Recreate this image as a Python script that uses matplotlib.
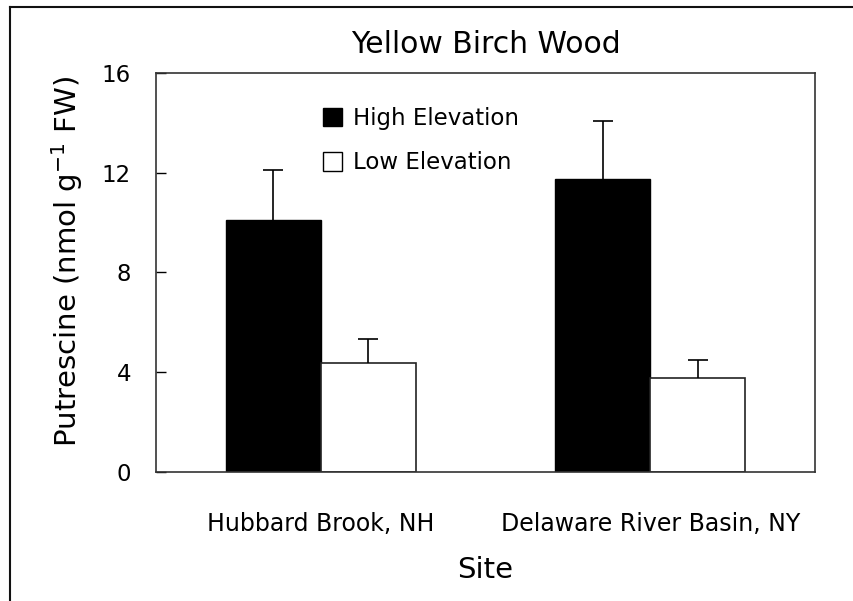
import matplotlib.pyplot as plt
from matplotlib.lines import Line2D
from matplotlib.patches import Patch
import numpy as np

sites = ['Hubbard Brook, NH', 'Delaware River Basin, NY']
high = [10.1, 11.75]
high_err = [2.0, 2.3]
low = [4.35, 3.75]
low_err = [1.0, 0.75]

plt.rcParams['font.family'] = 'DejaVu Sans'

fig = plt.figure(figsize=(8.54, 6.01), dpi=100)
ax = fig.add_axes([0.1827, 0.2146, 0.7716, 0.6644])

x = np.arange(len(sites))
w = 0.288
ax.bar(x - w / 2, high, w, color='black', edgecolor='black', linewidth=1)
ax.bar(x + w / 2, low, w, color='white', edgecolor='#222222', linewidth=1.2)

# upper error bars only
for xs, ys, es in [(x - w / 2, high, high_err), (x + w / 2, low, low_err)]:
    eb = ax.errorbar(xs, ys, yerr=[np.zeros(2), es], fmt='none',
                     ecolor='black', elinewidth=1.2, capsize=7, capthick=1.2)
    eb[1][0].set_visible(False)

ax.set_xlim(-0.5, 1.5)
ax.set_ylim(0, 16)
ax.set_yticks([0, 4, 8, 12, 16])
ax.tick_params(axis='y', direction='in', length=7, width=1, pad=18, labelsize=16.5)
ax.set_xticks(x)
ax.set_xticklabels(sites)
ax.tick_params(axis='x', length=0, pad=29, labelsize=17)
for s in ax.spines.values():
    s.set_color('#333333')
    s.set_linewidth(1.2)

ax.set_ylabel('Putrescine (nmol g$^{-1}$ FW)', fontsize=21)
ax.yaxis.set_label_coords(-0.108, 0.526)
ax.set_xlabel('Site', fontsize=21, labelpad=14)
ax.set_title('Yellow Birch Wood', fontsize=21.5, pad=14)

handles = [Patch(facecolor='black', edgecolor='black', label='High Elevation'),
           Patch(facecolor='white', edgecolor='black', label='Low Elevation')]
ax.legend(handles=handles, loc='upper left', bbox_to_anchor=(0.253, 0.915),
          frameon=False, fontsize=16.5, handlelength=0.85, handleheight=0.85,
          handletextpad=0.45, labelspacing=0.95, borderpad=0, borderaxespad=0)

# outer frame lines along the top and left edges
fig.add_artist(Line2D([10 / 854, 10 / 854], [0, 1 - 7 / 601], color='#111111', lw=1.5))
fig.add_artist(Line2D([10 / 854, 1], [1 - 7 / 601, 1 - 7 / 601], color='#111111', lw=1.5))

fig.savefig('out.png', dpi=100)
